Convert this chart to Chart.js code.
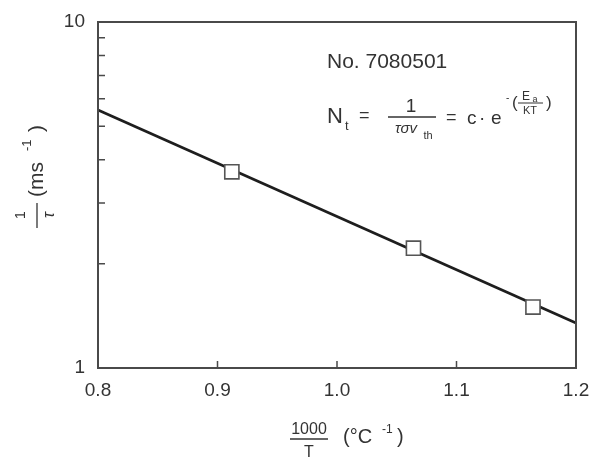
<!DOCTYPE html>
<html>
<head>
<meta charset="utf-8">
<script src="https://cdn.jsdelivr.net/npm/chart.js@4.4.1/dist/chart.umd.min.js"></script>
<style>
  html, body { margin: 0; padding: 0; background: #fff; }
  #wrap { width: 589px; height: 461px; position: relative; }
</style>
</head>
<body>
<div id="wrap"><canvas id="trapChart"></canvas></div>
<script>
// fitted Arrhenius line (end points at the plot edges)
const fitX = [0.8, 1.2];
const fitY = [5.57, 1.35];

// measured points, 1000/T vs 1/tau
const measX = [0.912, 1.064, 1.164];
const measY = [3.69, 2.22, 1.50];

// tick values
const xTickValues = [0.8, 0.9, 1.0, 1.1, 1.2];
const yTickValues = [1, 10];
const yMinorTicks = [2, 3, 4, 5, 6, 7, 8, 9];

const sampleLabel = 'No. 7080501';

const ink = '#333';
const fontFamily = '"Liberation Sans", Arial, sans-serif';

function font(size, style) {
    return (style ? style + ' ' : '') + size + 'px ' + fontFamily;
}

// draws the box, the inward ticks, axis titles and the formula
const decorPlugin = {
    id: 'decor',
    afterDraw(chart) {
        const ctx = chart.ctx;
        const area = chart.chartArea;
        const xs = chart.scales.x;
        const ys = chart.scales.y;

        ctx.save();
        ctx.strokeStyle = '#4a4a4a';
        ctx.lineWidth = 2;
        ctx.strokeRect(area.left, area.top, area.right - area.left, area.bottom - area.top);

        // inward tick marks
        ctx.lineWidth = 1.5;
        ctx.beginPath();
        xTickValues.forEach(v => {
            const px = xs.getPixelForValue(v);
            ctx.moveTo(px, area.bottom);
            ctx.lineTo(px, area.bottom - 7);
        });
        yMinorTicks.forEach(v => {
            const py = ys.getPixelForValue(v);
            ctx.moveTo(area.left, py);
            ctx.lineTo(area.left + 7, py);
        });
        ctx.stroke();

        ctx.fillStyle = ink;
        ctx.strokeStyle = ink;
        ctx.textBaseline = 'alphabetic';

        // x axis title: 1000/T (°C-1)
        ctx.textAlign = 'center';
        ctx.font = font(16);
        ctx.fillText('1000', 309, 434);
        ctx.fillText('T', 309, 457);
        ctx.lineWidth = 1.3;
        ctx.beginPath();
        ctx.moveTo(290, 439);
        ctx.lineTo(328, 439);
        ctx.stroke();
        ctx.textAlign = 'left';
        ctx.font = font(20);
        ctx.fillText('(°C', 343, 443);
        ctx.font = font(12);
        ctx.fillText('-1', 382, 433);
        ctx.font = font(20);
        ctx.fillText(')', 397, 443);

        // y axis title: 1/tau (ms-1), rotated
        ctx.save();
        ctx.translate(37, 175);
        ctx.rotate(-Math.PI / 2);
        ctx.textAlign = 'center';
        ctx.font = font(14);
        ctx.fillText('1', -40, -12);
        ctx.font = font(16, 'italic');
        ctx.fillText('τ', -40, 17);
        ctx.lineWidth = 1.3;
        ctx.beginPath();
        ctx.moveTo(-53, 0);
        ctx.lineTo(-28, 0);
        ctx.stroke();
        ctx.textAlign = 'left';
        ctx.font = font(21);
        ctx.fillText('(ms', -22, 6);
        ctx.font = font(13);
        ctx.fillText('-1', 24, -6);
        ctx.font = font(21);
        ctx.fillText(')', 43, 6);
        ctx.restore();

        // sample number and formula
        ctx.textAlign = 'left';
        ctx.font = font(21);
        ctx.fillText(sampleLabel, 327, 68);

        ctx.font = font(22);
        ctx.fillText('N', 327, 123);
        ctx.font = font(13);
        ctx.fillText('t', 345, 130);
        ctx.font = font(18);
        ctx.fillText('=', 359, 121);

        ctx.textAlign = 'center';
        ctx.font = font(19);
        ctx.fillText('1', 411, 112);
        ctx.lineWidth = 1.6;
        ctx.beginPath();
        ctx.moveTo(388, 117);
        ctx.lineTo(436, 117);
        ctx.stroke();
        ctx.font = font(15, 'italic');
        ctx.fillText('τσv', 406, 133);
        ctx.font = font(11);
        ctx.fillText('th', 428, 139);

        ctx.textAlign = 'left';
        ctx.font = font(18);
        ctx.fillText('=', 446, 123);
        ctx.font = font(19);
        ctx.fillText('c', 467, 124);
        ctx.fillText('·', 479, 124);
        ctx.fillText('e', 491, 124);

        // exponent -(Ea/KT)
        ctx.font = font(10);
        ctx.fillText('-', 506, 101);
        ctx.font = font(17);
        ctx.fillText('(', 512, 108);
        ctx.fillText(')', 546, 108);
        ctx.font = font(12);
        ctx.textAlign = 'center';
        ctx.fillText('E', 526, 100);
        ctx.font = font(9);
        ctx.fillText('a', 535, 102);
        ctx.lineWidth = 1;
        ctx.beginPath();
        ctx.moveTo(518, 103);
        ctx.lineTo(543, 103);
        ctx.stroke();
        ctx.font = font(11);
        ctx.fillText('KT', 530, 114);

        ctx.restore();
    }
};

const ctx = document.getElementById('trapChart').getContext('2d');
window.myChart = new Chart(ctx, {
    type: 'scatter',
    data: {
        datasets: [{
            label: 'fit',
            data: fitX.map((x, i) => ({ x: x, y: fitY[i] })),
            showLine: true,
            borderColor: '#1e1e1e',
            borderWidth: 2.7,
            pointRadius: 0,
            order: 2
        }, {
            label: 'measured',
            data: measX.map((x, i) => ({ x: x, y: measY[i] })),
            showLine: false,
            pointStyle: 'rect',
            pointRadius: 10,
            pointBackgroundColor: '#fff',
            pointBorderColor: '#555',
            pointBorderWidth: 1.6,
            order: 1
        }]
    },
    options: {
        responsive: true,
        maintainAspectRatio: false,
        animation: false,
        layout: {
            padding: { left: 0, top: 22, right: 13, bottom: 0 }
        },
        plugins: {
            legend: { display: false },
            tooltip: { enabled: false }
        },
        scales: {
            x: {
                type: 'linear',
                min: 0.8,
                max: 1.2,
                grid: { display: false },
                border: { display: false },
                afterBuildTicks: scale => {
                    scale.ticks = xTickValues.map(v => ({ value: v }));
                },
                afterFit: scale => {
                    scale.height = 93;
                    scale.paddingLeft = 0;
                    scale.paddingRight = 0;
                },
                ticks: {
                    color: ink,
                    font: { family: fontFamily, size: 19 },
                    padding: 3,
                    maxRotation: 0,
                    callback: v => v.toFixed(1)
                }
            },
            y: {
                type: 'logarithmic',
                min: 1,
                max: 10,
                grid: { display: false },
                border: { display: false },
                afterBuildTicks: scale => {
                    scale.ticks = yTickValues.map(v => ({ value: v }));
                },
                afterFit: scale => {
                    scale.width = 98;
                    scale.paddingTop = 0;
                    scale.paddingBottom = 0;
                },
                ticks: {
                    color: ink,
                    font: { family: fontFamily, size: 19 },
                    padding: 5,
                    callback: v => String(v)
                }
            }
        }
    },
    plugins: [decorPlugin]
});
</script>
</body>
</html>
